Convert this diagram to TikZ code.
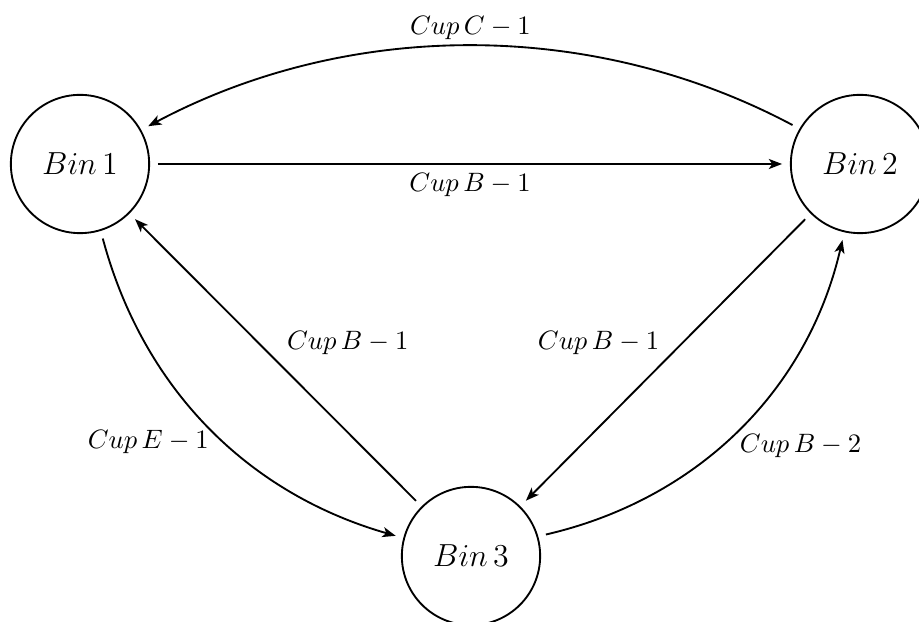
\documentclass[tikz,border=0pt]{standalone}
\usetikzlibrary{arrows.meta}
\begin{document}
\begin{tikzpicture}[x=0.376pt, y=-0.376pt, line width=0.7pt,
		bin/.style={circle, draw, minimum size=52pt, inner sep=0pt, outer sep=3.3pt, font=\large},
		>={Stealth[length=5pt, width=3.8pt, inset=1.3pt]}]
	\useasboundingbox (0,0) rectangle (919,622);
	\node[bin] (bin1) at (80,164) {$Bin\,1$};
	\node[bin] (bin2) at (860,164) {$Bin\,2$};
	\node[bin] (bin3) at (471,556) {$Bin\,3$};
	
	\draw[->] (bin2.150) to[out=152, in=28, looseness=0.9] node[above=-1.5pt] {$Cup\,C-1$} (bin1.29);
	\draw[->] (bin1) -- node[below] {$Cup\,B-1$} (bin2);
	\draw[->] (bin3) -- node[pos=0.56, right=7pt] {$Cup\,B-1$} (bin1);
	\draw[->] (bin2) -- node[pos=0.44, left=5pt] {$Cup\,B-1$} (bin3);
	\draw[->] (bin1.-73) to[out=-75, in=164, looseness=0.95] node[pos=0.55, left=2pt] {$Cup\,E-1$} (bin3.165);
	\draw[->] (bin3.16) to[out=13, in=-103, looseness=0.95] node[pos=0.45, right=3pt] {$Cup\,B-2$} (bin2.-103);
\end{tikzpicture}
\end{document}
